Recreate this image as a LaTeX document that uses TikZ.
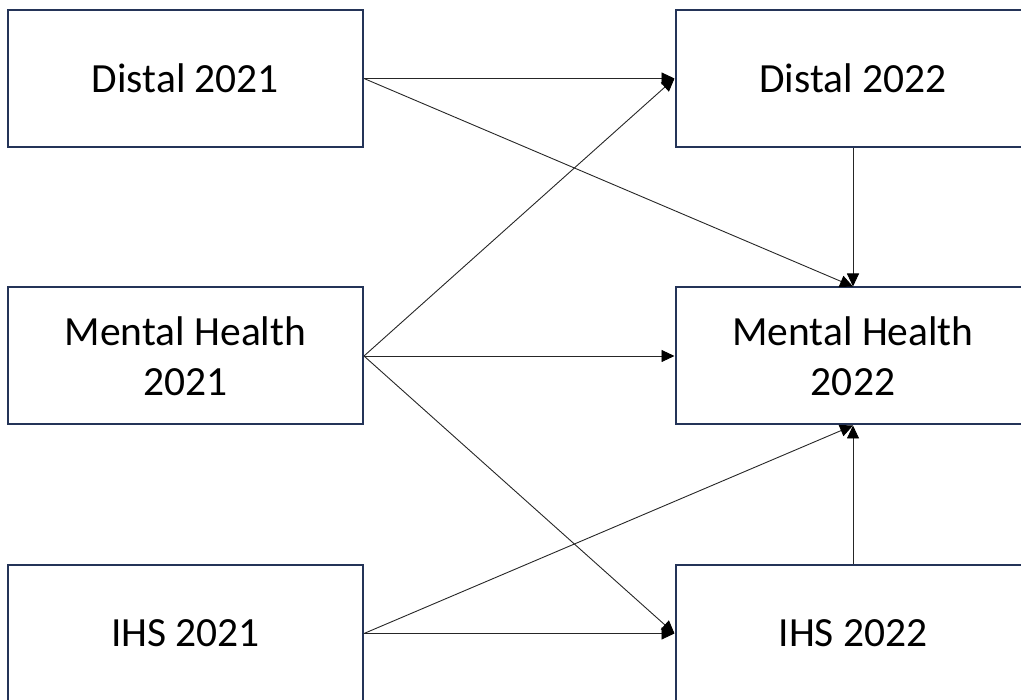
\documentclass[tikz,border=0pt]{standalone}
\usepackage{fontspec}
\setmainfont{Carlito}
\usetikzlibrary{arrows.meta}
\definecolor{boxnavy}{HTML}{243458}
\begin{document}
\begin{tikzpicture}[x=1pt,y=-1pt,
  box/.style={draw=boxnavy, line width=2pt, rectangle, minimum width=355pt, minimum height=137pt,
    align=center, font=\fontsize{41.5}{50}\selectfont, inner sep=0pt},
  conn/.style={draw=black!85, line width=0.9pt, -{Triangle[length=13pt,width=12pt,color=black]}}]
\useasboundingbox (0,0) rectangle (1021,700);
\node[box] (d21) at (185.5,78.5) {Distal 2021};
\node[box] (m21) at (185.5,356) {Mental Health\\2021};
\node[box] (i21) at (185.5,633.5) {IHS 2021};
\node[box] (d22) at (853,78.5) {Distal 2022};
\node[box] (m22) at (853,356) {Mental Health\\2022};
\node[box] (i22) at (853,633.5) {IHS 2022};
\draw[conn] (d21.east) -- (d22.west);
\draw[conn] (d21.east) -- (m22.north);
\draw[conn] (d22.south) -- (m22.north);
\draw[conn] (m21.east) -- (d22.west);
\draw[conn] (m21.east) -- (m22.west);
\draw[conn] (m21.east) -- (i22.west);
\draw[conn] (i21.east) -- (m22.south);
\draw[conn] (i21.east) -- (i22.west);
\draw[conn] (i22.north) -- (m22.south);
\end{tikzpicture}
\end{document}
